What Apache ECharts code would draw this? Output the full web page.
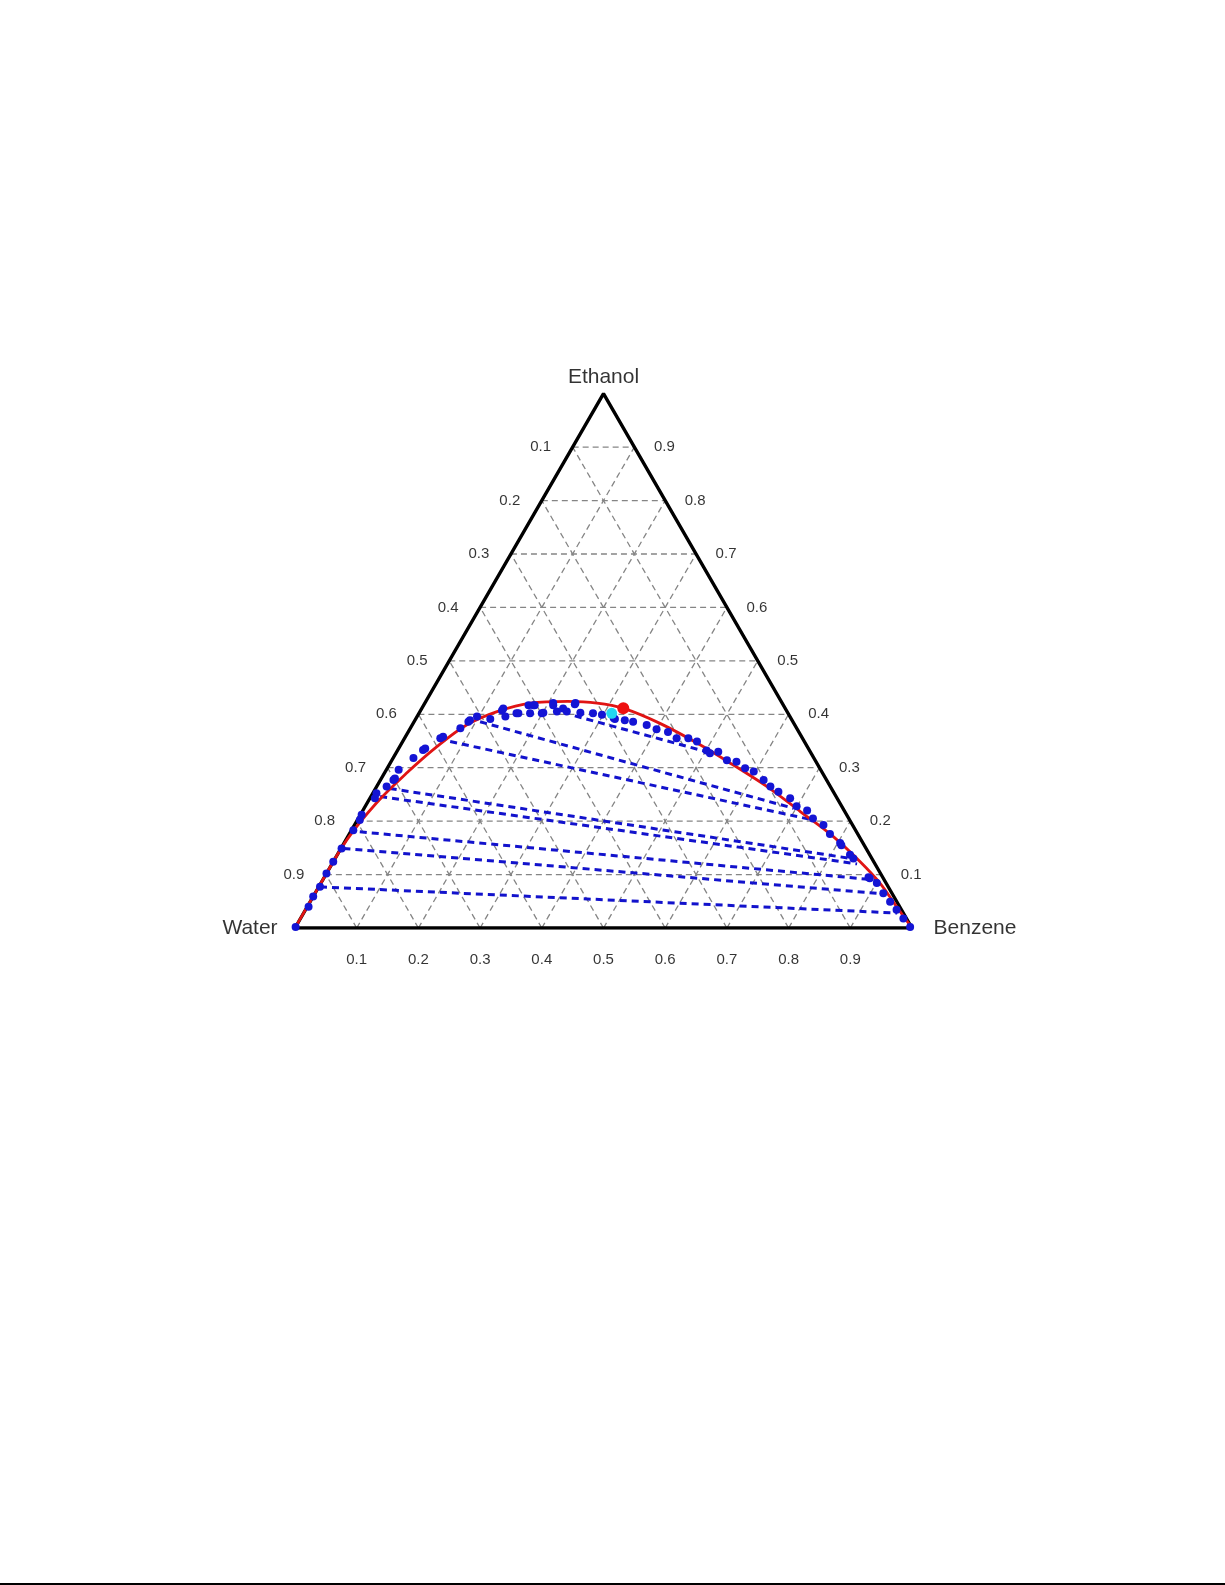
<!DOCTYPE html>
<html><head><meta charset="utf-8">
<script src="https://cdn.jsdelivr.net/npm/echarts/dist/echarts.min.js"></script>
<style>html,body{margin:0;padding:0;background:#fff}#c{width:1225px;height:1585px}</style>
</head><body><div id="c"></div>
<script>
// ---- data (ternary fractions: benzene, ethanol; water = 1 - b - e) ----
const cornerNames = ['Water', 'Benzene', 'Ethanol'];
const tickValues = [0.1, 0.2, 0.3, 0.4, 0.5, 0.6, 0.7, 0.8, 0.9];
const tickLabels = ['0.1', '0.2', '0.3', '0.4', '0.5', '0.6', '0.7', '0.8', '0.9'];

const curveBenzene = [0, 0, 0.0015, 0.015, 0.036, 0.060, 0.088, 0.125, 0.171, 0.230, 0.279, 0.327, 0.400, 0.485, 0.558, 0.632, 0.710, 0.787, 0.854, 0.906, 0.955, 1.0];
const curveEthanol = [0, 0.084, 0.165, 0.234, 0.290, 0.339, 0.380, 0.405, 0.421, 0.424, 0.421, 0.411, 0.383, 0.343, 0.305, 0.265, 0.218, 0.171, 0.124, 0.084, 0.040, 0];

const dotBenzene = [0.000, 0.002, 0.000, 0.002, 0.000, 0.000, 0.001, 0.003, 0.004, 0.002, 0.008, 0.006, 0.016, 0.021, 0.022, 0.020, 0.033, 0.041, 0.043, 0.058, 0.061, 0.081, 0.088, 0.089, 0.097, 0.121, 0.132, 0.132, 0.143, 0.158, 0.161, 0.170, 0.178, 0.180, 0.180, 0.199, 0.201, 0.208, 0.210, 0.222, 0.229, 0.238, 0.244, 0.244, 0.261, 0.282, 0.298, 0.320, 0.323, 0.340, 0.355, 0.380, 0.400, 0.421, 0.441, 0.460, 0.477, 0.501, 0.509, 0.521, 0.543, 0.560, 0.580, 0.597, 0.621, 0.638, 0.656, 0.681, 0.699, 0.720, 0.737, 0.760, 0.779, 0.804, 0.808, 0.831, 0.840, 0.882, 0.885, 0.901, 0.921, 0.940, 0.958, 0.977, 0.996];
const dotEthanol = [0.002, 0.040, 0.059, 0.077, 0.102, 0.124, 0.149, 0.183, 0.202, 0.212, 0.243, 0.252, 0.265, 0.277, 0.280, 0.296, 0.318, 0.333, 0.336, 0.355, 0.358, 0.374, 0.386, 0.389, 0.396, 0.391, 0.407, 0.411, 0.396, 0.402, 0.402, 0.417, 0.417, 0.417, 0.402, 0.402, 0.403, 0.421, 0.417, 0.405, 0.411, 0.405, 0.419, 0.421, 0.403, 0.402, 0.399, 0.393, 0.391, 0.389, 0.386, 0.380, 0.372, 0.367, 0.355, 0.355, 0.349, 0.332, 0.327, 0.330, 0.314, 0.311, 0.299, 0.293, 0.277, 0.265, 0.255, 0.243, 0.228, 0.220, 0.205, 0.193, 0.176, 0.159, 0.155, 0.137, 0.130, 0.095, 0.093, 0.084, 0.065, 0.049, 0.034, 0.018, 0.002];

const tieLeftBenzene = [0.255, 0.107, 0.077, 0.023, 0.015, 0.015, 0.004, 0.002];
const tieLeftEthanol = [0.397, 0.386, 0.349, 0.261, 0.246, 0.180, 0.149, 0.077];
const tieRightBenzene = [0.502, 0.696, 0.739, 0.831, 0.851, 0.895, 0.920, 0.962];
const tieRightEthanol = [0.330, 0.224, 0.202, 0.131, 0.120, 0.090, 0.064, 0.028];

const plaitPoint = [0.3265, 0.4112];
const cyanPoint = [0.3124, 0.4018];

// ---- ternary -> cartesian ----
const H = Math.sqrt(3) / 2;
function xy(b, e) { return [b + e / 2, e * H]; }

const FONT = 'Liberation Sans, Arial, sans-serif';
const series = [];
const gridStyle = { color: '#858585', width: 1.3, type: [6, 4] };

// grid lines
tickValues.forEach(k => {
  series.push({ type: 'line', data: [xy(0, k), xy(1 - k, k)], symbol: 'none', lineStyle: gridStyle, silent: true, z: 1 });
  series.push({ type: 'line', data: [xy(k, 0), xy(k, 1 - k)], symbol: 'none', lineStyle: gridStyle, silent: true, z: 1 });
  series.push({ type: 'line', data: [xy(1 - k, 0), xy(0, 1 - k)], symbol: 'none', lineStyle: gridStyle, silent: true, z: 1 });
});

// triangle border
series.push({ type: 'line', data: [xy(0, 0), xy(1, 0), xy(0, 1), xy(0, 0)], symbol: 'none',
  lineStyle: { color: '#000', width: 3.4 }, z: 3, silent: true });

// tie lines
for (let i = 0; i < tieLeftBenzene.length; i++) {
  series.push({ type: 'line', data: [xy(tieLeftBenzene[i], tieLeftEthanol[i]), xy(tieRightBenzene[i], tieRightEthanol[i])],
    symbol: 'none', lineStyle: { color: '#1212cc', width: 3, type: [7, 5] }, z: 4, silent: true });
}

// binodal curve
series.push({ type: 'line', data: curveBenzene.map((b, i) => xy(b, curveEthanol[i])), symbol: 'none', smooth: 0.35,
  lineStyle: { color: '#e01414', width: 2.8 }, z: 5, silent: true });

// dots
series.push({ type: 'scatter', data: dotBenzene.map((b, i) => xy(b, dotEthanol[i])), symbolSize: 8,
  itemStyle: { color: '#1414d4', opacity: 1 }, z: 6, silent: true });

series.push({ type: 'scatter', data: [xy(cyanPoint[0], cyanPoint[1])], symbolSize: 11, itemStyle: { color: '#22d8f0', opacity: 1 }, z: 7 });
series.push({ type: 'scatter', data: [xy(plaitPoint[0], plaitPoint[1])], symbolSize: 12, itemStyle: { color: '#ee1010', opacity: 1 }, z: 8 });

// tick labels
const tickLabelStyle = { show: true, position: 'inside', fontSize: 15, color: '#000', fontFamily: FONT };
series.push({ type: 'scatter', symbolSize: 0, silent: true, z: 9,
  data: tickValues.map((k, i) => ({ value: xy(0, 1 - k), label: Object.assign({}, tickLabelStyle, { offset: [-32, 0], formatter: tickLabels[i] }) })) });
series.push({ type: 'scatter', symbolSize: 0, silent: true, z: 9,
  data: tickValues.map((k, i) => ({ value: xy(1 - k, k), label: Object.assign({}, tickLabelStyle, { offset: [30, 0], formatter: tickLabels[i] }) })) });
series.push({ type: 'scatter', symbolSize: 0, silent: true, z: 9,
  data: tickValues.map((k, i) => ({ value: xy(k, 0), label: Object.assign({}, tickLabelStyle, { offset: [0, 32], formatter: tickLabels[i] }) })) });

// corner labels
const cornerStyle = { show: true, position: 'inside', fontSize: 21, color: '#000', fontFamily: FONT };
series.push({ type: 'scatter', symbolSize: 0, silent: true, z: 9, data: [
  { value: xy(0, 0), label: Object.assign({}, cornerStyle, { offset: [-45, 0], formatter: cornerNames[0] }) },
  { value: xy(1, 0), label: Object.assign({}, cornerStyle, { offset: [63, 0], formatter: cornerNames[1] }) },
  { value: xy(0, 1), label: Object.assign({}, cornerStyle, { offset: [0, -16], formatter: cornerNames[2] }) }
] });

const chart = echarts.init(document.getElementById('c'), null, { renderer: 'canvas' });
chart.setOption({
  animation: false,
  backgroundColor: '#fff',
  grid: { left: 295, right: 313, top: 393.7, bottom: 657, containLabel: false },
  xAxis: { type: 'value', min: 0, max: 1, show: false },
  yAxis: { type: 'value', min: 0, max: H, show: false },
  series: series,
  graphic: [{ type: 'line', shape: { x1: 0, y1: 1584, x2: 1225, y2: 1584 }, style: { stroke: '#000', lineWidth: 2 } }]
});
</script></body></html>
